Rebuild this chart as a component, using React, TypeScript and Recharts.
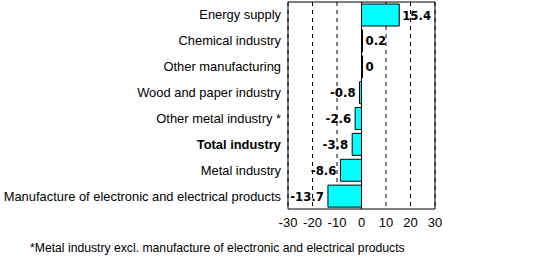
import { BarChart, Bar, XAxis, YAxis, CartesianGrid, ReferenceLine, ReferenceArea, LabelList } from 'recharts';

const categories = [
    'Energy supply',
    'Chemical industry',
    'Other manufacturing',
    'Wood and paper industry',
    'Other metal industry *',
    'Total industry',
    'Metal industry',
    'Manufacture of electronic and electrical products',
];
const changes = [15.4, 0.2, 0, -0.8, -2.6, -3.8, -8.6, -13.7];
const xTicks = [-30, -20, -10, 0, 10, 20, 30];
const footnote = '*Metal industry excl. manufacture of electronic and electrical products';

const data = categories.map((name, i) => ({ name, value: changes[i] }));

const font = 'Arial, "Liberation Sans", sans-serif';

function CategoryTick({ x, y, payload }: any) {
    const bold = payload.value === 'Total industry';
    return (
        <text x={x - 7} y={y} textAnchor="end" dominantBaseline="central" fontFamily={font} fontSize={12.9}
            fontWeight={bold ? 700 : 400} fill="#000">
            {payload.value}
        </text>
    );
}

function ValueTick({ x, y, payload }: any) {
    return (
        <text x={x} y={y + 18} textAnchor="middle" fontFamily={font} fontSize={13} fill="#000">
            {payload.value}
        </text>
    );
}

function ValueLabel({ x, y, width, height, value }: any) {
    const neg = value < 0;
    const end = x + width;
    return (
        <text
            x={neg ? Math.min(x, end) - 4 : Math.max(x, end) + 3}
            y={y + height / 2}
            textAnchor={neg ? 'end' : 'start'}
            dominantBaseline="central"
            fontFamily='"Liberation Sans Narrow", "DejaVu Sans Condensed", Arial, sans-serif'
            fontWeight={700}
            fontSize={13}
            fill="#000"
        >
            {value}
        </text>
    );
}

export default function App() {
    return (
        <div style={{ position: 'absolute', left: 0, top: 0, width: 556, height: 257, background: '#fff' }}>
            <BarChart
                width={556}
                height={257}
                data={data}
                layout="vertical"
                barSize={22}
                margin={{ top: 2, right: 121, left: 0, bottom: 28 }}
            >
                <CartesianGrid horizontal={false} stroke="#000" strokeDasharray="4 4" />
                <XAxis
                    type="number"
                    domain={[-30, 30]}
                    ticks={xTicks}
                    axisLine={false}
                    tickLine={false}
                    tickSize={0}
                    tickMargin={0}
                    height={20}
                    tick={<ValueTick />}
                    interval={0}
                />
                <YAxis
                    type="category"
                    dataKey="name"
                    width={288}
                    axisLine={false}
                    tickLine={false}
                    tickSize={0}
                    tickMargin={0}
                    tick={<CategoryTick />}
                    interval={0}
                />
                <ReferenceArea x1={-30} x2={30} fill="none" stroke="#000" strokeWidth={1} ifOverflow="visible" />
                <Bar dataKey="value" fill="#00ffff" stroke="#000" strokeWidth={1} minPointSize={1} isAnimationActive={false}>
                    <LabelList dataKey="value" content={<ValueLabel />} />
                </Bar>
                <ReferenceLine x={0} stroke="#000" strokeWidth={1} />
            </BarChart>
            <div style={{ position: 'absolute', left: 30, top: 241, fontFamily: font, fontSize: 12.2, color: '#000', whiteSpace: 'nowrap' }}>
                {footnote}
            </div>
        </div>
    );
}
